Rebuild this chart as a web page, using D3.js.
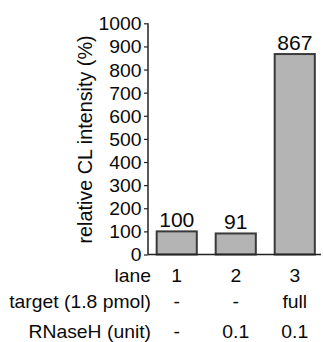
<!DOCTYPE html>
<html><head><meta charset="utf-8">
<script src="https://cdn.jsdelivr.net/npm/d3@7/dist/d3.min.js"></script>
<style>
html,body{margin:0;padding:0;background:#fff;}
text{font-family:"Liberation Sans",Arial,Helvetica,sans-serif;fill:#0a0a0a;}
</style></head>
<body>
<svg id="chart" width="323" height="342"></svg>
<script>
const lanes = ["1", "2", "3"];
const values = [100, 91, 867];
const yTicks = [0, 100, 200, 300, 400, 500, 600, 700, 800, 900, 1000];
const rowLabels = ["lane", "target (1.8 pmol)", "RNaseH (unit)"];
const targetRow = ["-", "-", "full"];
const rnaseRow = ["-", "0.1", "0.1"];
const yTitle = "relative CL intensity (%)";

const svg = d3.select("#chart");
const axisX = 148;
const SX = 1.075;
const y = d3.scaleLinear().domain([0, 1000]).range([254.5, 23.3]);
const x = d3.scaleBand().domain(lanes).range([148, 323.5]).paddingInner(0.32).paddingOuter(0.147);

// bars
svg.selectAll("rect.bar").data(values).enter().append("rect")
  .attr("class", "bar")
  .attr("x", (d, i) => x(lanes[i]))
  .attr("width", x.bandwidth())
  .attr("y", d => y(d))
  .attr("height", d => y(0) - y(d))
  .attr("fill", "#b4b4b4")
  .attr("stroke", "#3a3a3a")
  .attr("stroke-width", 2);

// value labels
svg.selectAll("text.val").data(values).enter().append("text")
  .attr("class", "val")
  .attr("transform", (d, i) => `translate(${x(lanes[i]) + x.bandwidth() / 2},${y(d) - 4}) scale(1.03,1)`)
  .attr("text-anchor", "middle")
  .style("font-size", "20.5px")
  .text(d => d);

// y axis
const yAxis = d3.axisLeft(y).tickValues(yTicks).tickFormat(d3.format("d")).tickSize(4).tickPadding(2.5);
const gy = svg.append("g").attr("transform", `translate(${axisX},0)`).call(yAxis);
gy.select(".domain").attr("stroke", "#222").attr("stroke-width", 1.5).attr("d", `M-0,${y(1000)}V${y(0)}`);
gy.selectAll(".tick line").attr("stroke", "#222").attr("stroke-width", 1.2);
gy.selectAll(".tick text")
  .style("font-size", "18px")
  .style("font-family", "'Liberation Sans',Arial,sans-serif")
  .attr("fill", "#0a0a0a")
  .attr("x", -6.5 / SX)
  .attr("dy", "0.36em")
  .attr("transform", `scale(${SX},1)`);

// x baseline
svg.append("line")
  .attr("x1", axisX).attr("x2", 321)
  .attr("y1", y(0)).attr("y2", y(0))
  .attr("stroke", "#222").attr("stroke-width", 1.5);

// y title
svg.append("text")
  .attr("transform", `translate(92,139.5) rotate(-90)`)
  .attr("text-anchor", "middle")
  .style("font-size", "19.8px")
  .text(yTitle);

// bottom table
const rowY = [282, 308, 338];
const rows = [lanes, targetRow, rnaseRow];
rowLabels.forEach((lab, r) => {
  svg.append("text")
    .attr("transform", `translate(151,${rowY[r]}) scale(${SX},1)`)
    .attr("text-anchor", "end")
    .style("font-size", "18px")
    .text(lab);
  svg.selectAll(null).data(rows[r]).enter().append("text")
    .attr("transform", (d, i) => `translate(${x(lanes[i]) + x.bandwidth() / 2},${rowY[r]}) scale(${SX},1)`)
    .attr("text-anchor", "middle")
    .style("font-size", "18px")
    .text(d => d);
});
</script>
</body></html>
